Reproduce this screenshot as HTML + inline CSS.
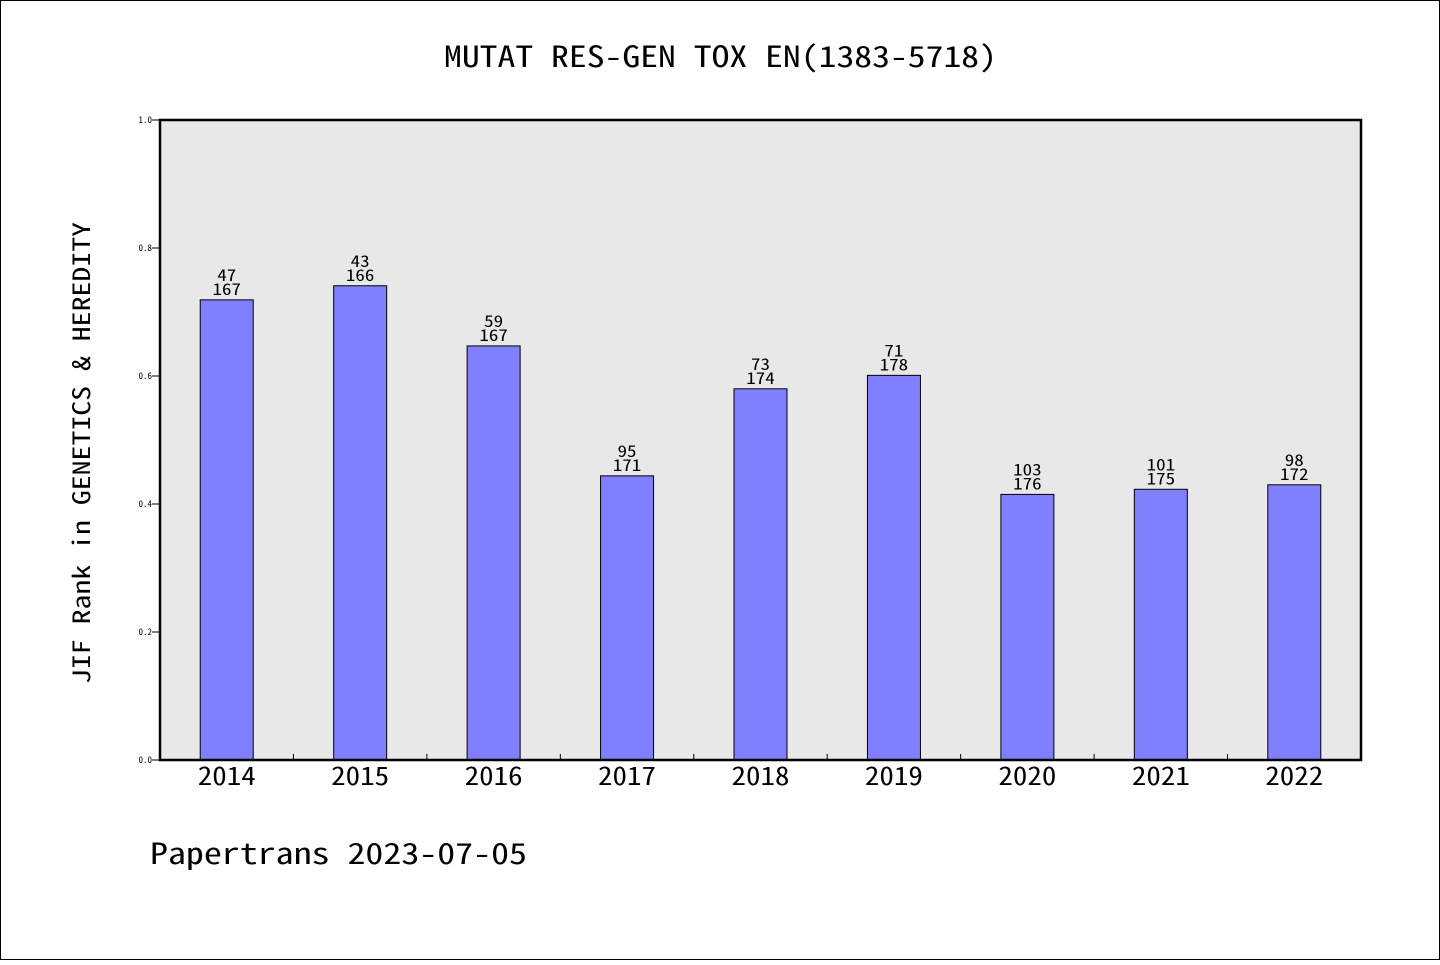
<!DOCTYPE html>
<html><head><meta charset="utf-8"><style>
html,body{margin:0;padding:0;background:#fff;}
svg text{font-family:"WenQuanYi Zen Hei Mono","Noto Sans Mono CJK SC","Liberation Mono",monospace;fill:#000;}
</style></head><body>
<svg id="chart" width="1440" height="960" viewBox="0 0 1440 960" xmlns="http://www.w3.org/2000/svg">
<rect x="0.5" y="0.5" width="1439" height="959" fill="#fff" stroke="#000" stroke-width="1"/>
<text x="444" y="67" font-size="29" textLength="553" lengthAdjust="spacingAndGlyphs">MUTAT RES-GEN TOX EN(1383-5718)</text>
<rect x="160" y="120" width="1201" height="640" fill="#e8e8e8"/>
<g id="bars"></g>
<rect x="160" y="120" width="1201" height="640" fill="none" stroke="#000" stroke-width="2.5"/>
<g id="axes"></g>
<text transform="translate(90,684) rotate(-90)" font-size="24" textLength="462" lengthAdjust="spacingAndGlyphs">JIF Rank in GENETICS &amp; HEREDITY</text>
<text x="150" y="864" font-size="29" textLength="377" lengthAdjust="spacingAndGlyphs">Papertrans 2023-07-05</text>
</svg>
<script>
const years = ['2014','2015','2016','2017','2018','2019','2020','2021','2022'];
const values = [0.719,0.741,0.647,0.444,0.580,0.601,0.415,0.423,0.430];
const ranks = ['47','43','59','95','73','71','103','101','98'];
const totals = ['167','166','167','171','174','178','176','175','172'];
const yTicks = [0,0.2,0.4,0.6,0.8,1.0];
const yTickLabels = ['0.0','0.2','0.4','0.6','0.8','1.0'];

const X0=160,X1=1361,Y0=760,Y1=120;
const band=(X1-X0)/years.length;
const xc=i=>X0+band*(i+0.5);
const y=v=>Y0-(Y0-Y1)*v;
const NS='http://www.w3.org/2000/svg';
function mk(t,a){const e=document.createElementNS(NS,t);for(const k in a)e.setAttribute(k,a[k]);return e;}
const bars=document.getElementById('bars'),axes=document.getElementById('axes');
const bw=53;
values.forEach((v,i)=>{
  const r=mk('rect',{x:xc(i)-bw/2,y:y(v),width:bw,height:Y0-y(v),fill:'#8080ff',stroke:'#000','stroke-width':1});
  
  
  bars.appendChild(r);
  const t1=mk('text',{x:xc(i),y:y(v)-19,'font-size':16,'text-anchor':'middle',textLength:ranks[i].length*9.5,lengthAdjust:'spacingAndGlyphs'});t1.textContent=ranks[i];
  
  
  bars.appendChild(t1);
  const t2=mk('text',{x:xc(i),y:y(v)-5,'font-size':16,'text-anchor':'middle',textLength:totals[i].length*9.5,lengthAdjust:'spacingAndGlyphs'});t2.textContent=totals[i];
  
  
  bars.appendChild(t2);
  const xl=mk('text',{x:xc(i),y:785,'font-size':25,'text-anchor':'middle',textLength:58,lengthAdjust:'spacingAndGlyphs'});xl.textContent=years[i];
  
  
  axes.appendChild(xl);
  if(i>0){const tk=mk('line',{x1:X0+band*i,x2:X0+band*i,y1:Y0,y2:Y0-6,stroke:'#000','stroke-width':1});
  
  
  axes.appendChild(tk);}
});
yTicks.forEach((v,i)=>{
  const tk=mk('line',{x1:X0,x2:X0-8,y1:y(v),y2:y(v),stroke:'#000','stroke-width':1});
  
  
  axes.appendChild(tk);
  const tl=mk('text',{x:X0-8,y:y(v)+3,'font-size':9,'text-anchor':'end'});tl.textContent=yTickLabels[i];
  
  
  axes.appendChild(tl);
});
</script>
</body></html>
